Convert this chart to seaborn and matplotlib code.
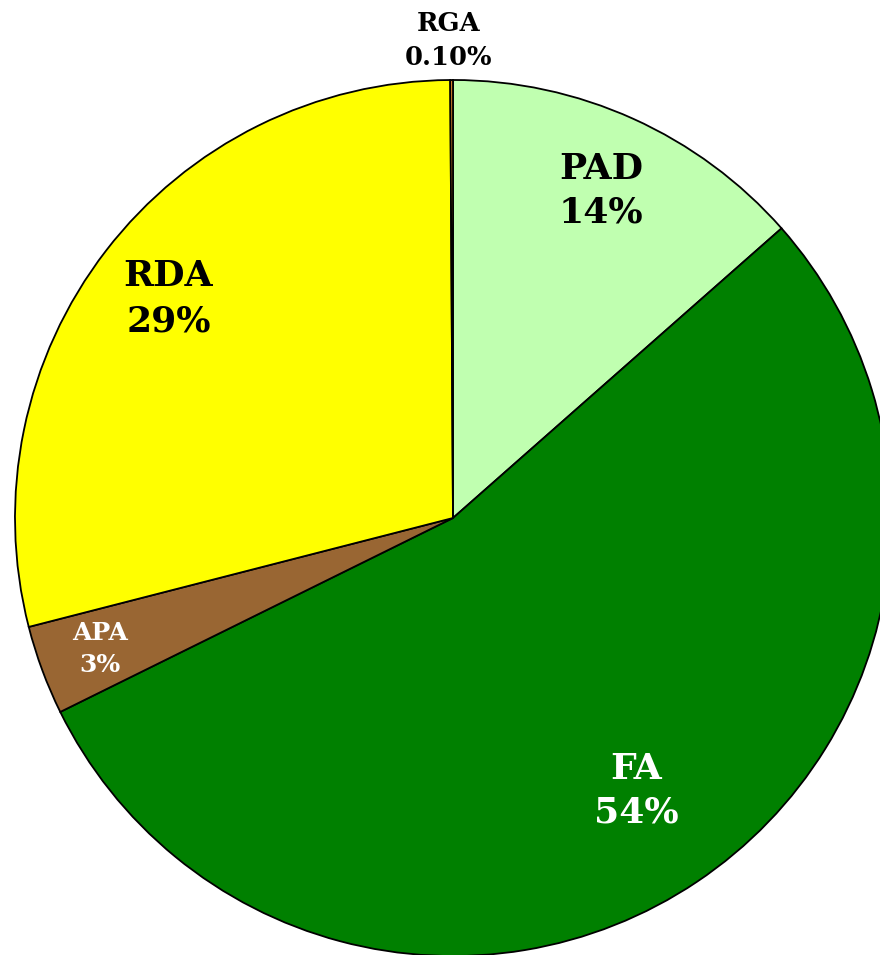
import numpy as np
import matplotlib
matplotlib.use("Agg")
import matplotlib.pyplot as plt
import seaborn as sns

sns.set_theme(style="white")
plt.rcParams["font.family"] = ["DejaVu Serif", "DejaVu Sans"]

# data
categories = ["PAD", "FA", "APA", "RDA", "RGA"]
values = [13.5, 54.2, 3.3, 28.9, 0.1]
pct_labels = ["14%", "54%", "3%", "29%", "0.10%"]
colors = ["#C0FFB0", "#008000", "#996633", "#FFFF00", "#FF9933"]
text_colors = ["black", "white", "white", "black", "black"]
label_dist = [0.82, 0.75, 0.86, 0.82, 1.09]
font_sizes = [26, 26, 18, 26, 18.5]
line_sp = [1.35, 1.35, 1.45, 1.4, 1.45]

fig = plt.figure(figsize=(8.8, 9.55), dpi=100)
ax = fig.add_axes([0, 0, 1, 1])

wedges, _ = ax.pie(values, colors=colors, startangle=90, counterclock=False,
                   radius=1, center=(0, 0),
                   wedgeprops=dict(edgecolor="black", linewidth=1.3))

for w, cat, pct, tc, d, fs, ls in zip(wedges, categories, pct_labels,
                                      text_colors, label_dist, font_sizes, line_sp):
    mid = np.deg2rad((w.theta1 + w.theta2) / 2)
    x, y = d * np.cos(mid), d * np.sin(mid)
    if cat == "RGA":
        x = -0.01
    ax.text(x, y, f"{cat}\n{pct}", ha="center", va="center", color=tc,
            fontsize=fs, fontweight="bold", linespacing=ls,
            family="DejaVu Serif")

ax.set_xlim(-453 / 438, (880 - 453) / 438)
ax.set_ylim(-(955 - 518) / 438, 518 / 438)
ax.set_aspect("auto")
ax.axis("off")

plt.savefig("out.png", dpi=100)
